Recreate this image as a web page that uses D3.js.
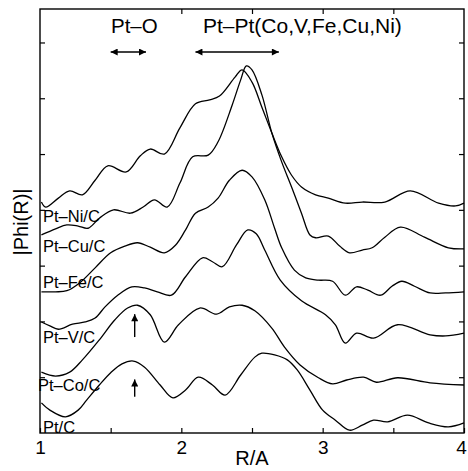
<!DOCTYPE html>
<html lang="en">
<head>
<meta charset="utf-8">
<title>|Phi(R)| spectra</title>
<script src="https://d3js.org/d3.v7.min.js"></script>
<style>
  body { margin: 0; background: #fff; }
  text { font-family: "Liberation Sans", Arial, Helvetica, sans-serif; fill: #000; }
</style>
</head>
<body>
<div id="chart"></div>
<script>
// ---- data (R in Angstrom, |Phi(R)| in arbitrary stacked units) ----
var seriesNames = ["Pt\u2013Ni/C", "Pt\u2013Cu/C", "Pt\u2013Fe/C", "Pt\u2013V/C", "Pt\u2013Co/C", "Pt/C"];

var ptNi = [[1.01,4.14],[1.04,4.05],[1.13,4.21],[1.21,4.34],[1.30,4.27],[1.39,4.53],[1.48,4.79],[1.61,4.68],
  [1.71,4.97],[1.78,5.09],[1.88,5.00],[1.99,5.47],[2.10,5.90],[2.20,5.97],[2.27,6.04],[2.38,6.38],[2.43,6.51],
  [2.50,6.29],[2.57,5.84],[2.64,5.38],[2.71,4.95],[2.78,4.62],[2.85,4.41],[2.95,4.27],[3.04,4.21],[3.16,4.12],
  [3.28,4.14],[3.44,4.14],[3.62,4.34],[3.82,4.12],[3.94,4.07],[4.00,4.12]];

var ptCu = [[1.01,3.55],[1.11,3.66],[1.19,3.73],[1.27,3.71],[1.34,3.67],[1.42,3.85],[1.52,4.00],[1.64,3.94],
  [1.73,4.05],[1.81,4.18],[1.90,4.05],[1.99,4.48],[2.08,4.95],[2.19,4.98],[2.26,5.22],[2.36,5.88],[2.42,6.33],
  [2.46,6.58],[2.50,6.51],[2.57,6.06],[2.64,5.38],[2.71,4.86],[2.78,4.41],[2.85,3.94],[2.91,3.55],[2.95,3.50],
  [3.04,3.53],[3.12,3.35],[3.19,3.23],[3.28,3.28],[3.35,3.32],[3.44,3.51],[3.55,3.69],[3.72,3.51],[3.89,3.32],
  [4.00,3.30]];

var ptFe = [[1.01,2.53],[1.11,2.53],[1.19,2.55],[1.28,2.69],[1.39,2.96],[1.50,3.23],[1.60,3.35],[1.69,3.41],
  [1.78,3.33],[1.88,3.23],[1.96,3.37],[2.03,3.64],[2.10,3.94],[2.19,4.05],[2.26,4.21],[2.34,4.53],[2.43,4.71],
  [2.50,4.59],[2.59,4.18],[2.66,3.67],[2.71,3.32],[2.80,2.92],[2.88,2.78],[2.97,2.74],[3.07,2.72],[3.16,2.47],
  [3.24,2.62],[3.32,2.56],[3.41,2.47],[3.49,2.63],[3.56,2.72],[3.65,2.63],[3.76,2.51],[3.87,2.51],[4.00,2.53]];

var ptV = [[1.01,1.99],[1.07,1.92],[1.13,1.86],[1.23,1.95],[1.32,1.99],[1.39,2.06],[1.46,2.26],[1.55,2.47],
  [1.65,2.62],[1.74,2.60],[1.83,2.53],[1.93,2.47],[2.03,2.80],[2.15,3.14],[2.22,3.07],[2.29,2.98],[2.39,3.37],
  [2.47,3.64],[2.53,3.57],[2.59,3.28],[2.70,2.74],[2.85,2.37],[3.02,2.12],[3.09,1.94],[3.16,1.61],[3.24,1.79],
  [3.36,1.70],[3.53,1.94],[3.76,1.76],[3.87,1.74],[4.00,1.79]];

var ptCo = [[1.01,1.09],[1.11,1.02],[1.21,1.09],[1.30,1.31],[1.42,1.67],[1.53,2.03],[1.62,2.24],[1.69,2.29],
  [1.78,2.12],[1.88,1.63],[1.98,1.94],[2.13,2.24],[2.25,2.13],[2.34,2.26],[2.43,2.29],[2.52,2.19],[2.64,1.88],
  [2.73,1.54],[2.84,1.22],[2.97,0.99],[3.07,0.88],[3.17,0.95],[3.29,1.00],[3.38,0.91],[3.53,0.99],[3.76,0.90],
  [4.00,0.86]];

var ptC = [[1.01,0.54],[1.07,0.41],[1.18,0.29],[1.27,0.41],[1.33,0.59],[1.42,0.86],[1.50,1.08],[1.58,1.24],
  [1.66,1.29],[1.74,1.18],[1.85,0.86],[1.94,0.63],[2.03,0.77],[2.12,1.00],[2.22,0.86],[2.31,0.68],[2.42,1.04],
  [2.52,1.36],[2.57,1.43],[2.66,1.40],[2.75,1.31],[2.82,1.13],[2.91,0.77],[3.00,0.41],[3.09,0.23],[3.19,0.05],
  [3.28,0.14],[3.36,0.23],[3.46,0.20],[3.60,0.32],[3.75,0.18],[3.89,0.11],[4.00,0.18]];

var allSeries = [ptNi, ptCu, ptFe, ptV, ptCo, ptC];

var xTicks = [1, 1.5, 2, 2.5, 3, 3.5, 4];
var xTickLabels = ["1", "", "2", "", "3", "", "4"];
var yTicks = [1, 2, 3, 4, 5, 6, 7];

// ranges of the two bond annotations (R)
var ptORange = [1.5, 1.75];
var ptPtRange = [2.1, 2.69];
// marked Pt-O peaks (R, value of arrow tail, value of tip)
var peakArrows = [[1.67, 1.72, 2.13], [1.67, 0.65, 0.96]];

// ---- layout ----
var W = 468, H = 471;
var margin = {top: 9, right: 4, bottom: 38, left: 40},
    width = W - margin.left - margin.right,
    height = H - margin.top - margin.bottom;

var svg = d3.select("#chart").append("svg")
    .attr("width", W)
    .attr("height", H);

var defs = svg.append("defs");
defs.append("marker")
    .attr("id", "head")
    .attr("viewBox", "0 0 10 10")
    .attr("refX", 10).attr("refY", 5)
    .attr("markerWidth", 9).attr("markerHeight", 7)
    .attr("markerUnits", "userSpaceOnUse")
    .attr("orient", "auto-start-reverse")
  .append("path")
    .attr("d", "M0,0 L10,5 L0,10 Z")
    .attr("fill", "#000");

var g = svg.append("g")
    .attr("transform", "translate(" + margin.left + "," + margin.top + ")");

var x = d3.scaleLinear().domain([1, 4]).range([0, width]);
var y = d3.scaleLinear().domain([0, 7.6]).range([height, 0]);

// axes, ticks pointing inward
function styleAxis(sel) {
  sel.select(".domain").remove();
  sel.selectAll(".tick line").attr("stroke", "#000").attr("stroke-width", 1.2);
}

var xAxisG = g.append("g")
    .attr("transform", "translate(0," + height + ")")
    .call(d3.axisBottom(x).tickValues(xTicks).tickSize(-5).tickPadding(8)
      .tickFormat(function(d, i) { return xTickLabels[i]; }))
    .call(styleAxis);
xAxisG.selectAll("text")
    .style("font-size", "19px")
    .style("font-family", "'Liberation Sans', Arial, sans-serif");
// last label sits against the window edge
xAxisG.selectAll(".tick").filter(function(d) { return d === 4; })
    .select("text").attr("dx", "-3");

g.append("g")
    .call(d3.axisTop(x).tickValues(xTicks.slice(2, 6)).tickSize(-5).tickFormat(""))
    .call(styleAxis);

g.append("g")
    .call(d3.axisLeft(y).tickValues(yTicks).tickSize(-5).tickFormat(""))
    .call(styleAxis);

g.append("g")
    .attr("transform", "translate(" + width + ",0)")
    .call(d3.axisRight(y).tickValues(yTicks).tickSize(-5).tickFormat(""))
    .call(styleAxis);

// frame
g.append("rect")
    .attr("width", width)
    .attr("height", height)
    .attr("fill", "none")
    .attr("stroke", "#000")
    .attr("stroke-width", 1.4);

// curves
var line = d3.line()
    .x(function(d) { return x(d[0]); })
    .y(function(d) { return y(d[1]); })
    .curve(d3.curveCatmullRom.alpha(0.5));

g.selectAll(".spec")
  .data(allSeries)
  .enter()
  .append("path")
    .attr("class", "spec")
    .attr("d", line)
    .attr("fill", "none")
    .attr("stroke", "#000")
    .attr("stroke-width", 1.3);

// series labels (baseline in px from plot top)
var labelBase = [213, 243, 279, 334, 382, 424];
var labelX = [3, 3, 3, 3, -2, 3];
g.selectAll(".lab")
  .data(seriesNames)
  .enter()
  .append("text")
    .attr("class", "lab")
    .attr("x", function(d, i) { return labelX[i]; })
    .attr("y", function(d, i) { return labelBase[i]; })
    .style("font-size", "16.5px")
    .text(function(d) { return d; });

// bond annotations
g.append("text")
    .attr("x", x(d3.mean(ptORange)) + 6)
    .attr("y", 24)
    .attr("text-anchor", "middle")
    .style("font-size", "20.5px")
    .text("Pt\u2013O");

g.append("text")
    .attr("x", 163)
    .attr("y", 24)
    .style("font-size", "21px")
    .text("Pt\u2013Pt(Co,V,Fe,Cu,Ni)");

[ptORange, ptPtRange].forEach(function(r) {
  g.append("line")
      .attr("x1", x(r[0])).attr("x2", x(r[1]))
      .attr("y1", 43).attr("y2", 43)
      .attr("stroke", "#000")
      .attr("stroke-width", 1.4)
      .attr("marker-start", "url(#head)")
      .attr("marker-end", "url(#head)");
});

// vertical arrows under the Pt-O peaks
peakArrows.forEach(function(a) {
  g.append("line")
      .attr("x1", x(a[0])).attr("x2", x(a[0]))
      .attr("y1", y(a[1])).attr("y2", y(a[2]))
      .attr("stroke", "#000")
      .attr("stroke-width", 1.4)
      .attr("marker-end", "url(#head)");
});

// axis titles
svg.append("text")
    .attr("x", margin.left + width / 2)
    .attr("y", 465)
    .attr("text-anchor", "middle")
    .style("font-size", "20px")
    .text("R/A");

svg.append("text")
    .attr("transform", "translate(28,222) rotate(-90)")
    .attr("text-anchor", "middle")
    .style("font-size", "20px")
    .text("|Phi(R)|");
</script>
</body>
</html>
